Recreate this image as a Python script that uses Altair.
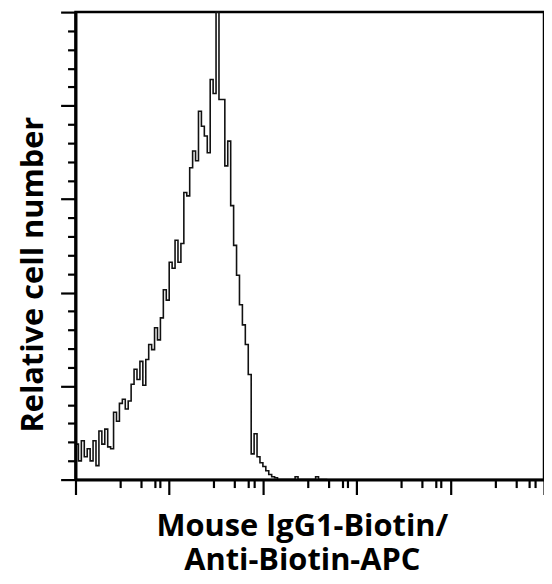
import altair as alt
import pandas as pd

# Histogram: 160 log-spaced bins over 5 decades (1 .. 1e5)
BINS_PER_RANGE = 160
DECADES = 5
counts = [
    7.6, 4.0, 8.3, 4.9, 6.6, 4.0, 8.3, 3.0, 10.4, 7.6,
    10.8, 7.0, 6.6, 14.4, 12.5, 16.3, 17.2, 15.1, 16.8, 20.4,
    23.6, 21.4, 25.3, 20.2, 25.7, 28.9, 27.8, 32.5, 29.9, 34.6,
    40.6, 38.4, 46.5, 45.2, 51.2, 46.5, 50.5, 61.4, 60.7, 66.7,
    70.3, 68.2, 78.8, 75.6, 73.5, 69.9, 85.6, 82.6, 100.0, 81.3,
    81.3, 67.1, 72.4, 58.6, 50.1, 43.7, 37.4, 33.1, 28.9, 22.5,
    5.5, 9.8, 4.9, 3.6, 2.8, 1.9, 1.1, 0.6, 0.4, 0.0,
    0.0, 0.0, 0.0, 0.0, 0.0, 0.6, 0.0, 0.0, 0.0, 0.0,
    0.0, 0.0, 0.6, 0.0, 0.0, 0.0,
]

x_tick_values = [1, 3, 5, 7, 8, 10, 30, 50, 70, 80, 100, 300, 500, 700, 800,
                 1000, 3000, 5000, 7000, 8000, 10000, 30000, 50000, 70000, 80000, 100000]
x_major = [1, 10, 100, 1000, 10000, 100000]
y_tick_values = list(range(0, 101, 4))

x_title = ["Mouse IgG1-Biotin/", "Anti-Biotin-APC"]
y_title = "Relative cell number"

edges = [10 ** (i * DECADES / BINS_PER_RANGE) for i in range(len(counts) + 1)]
df = pd.DataFrame({
    "channel": edges,
    "count": counts + [counts[-1]],
})

FONT = "Open Sans"
TITLE_SIZE = 31
major_test = "indexof(" + str(x_major) + ", datum.value) >= 0"

chart = (
    alt.Chart(df)
    .mark_line(interpolate="step-after", color="#111111", strokeWidth=1.6)
    .encode(
        x=alt.X(
            "channel:Q",
            scale=alt.Scale(type="log", domain=[1, 100000], nice=False),
            axis=alt.Axis(
                values=x_tick_values,
                labels=False,
                grid=False,
                domainColor="black",
                domainWidth=3,
                tickColor="black",
                tickWidth=2.2,
                tickSize={"condition": {"test": major_test, "value": 15}, "value": 8},
                title=x_title,
                titleFont=FONT,
                titleFontSize=TITLE_SIZE,
                titleFontWeight="bold",
                titleColor="black",
                titleBaseline="alphabetic",
                titleLineHeight=35,
                titleX=228,
                titleY=56,
                zindex=1,
            ),
        ),
        y=alt.Y(
            "count:Q",
            scale=alt.Scale(domain=[0, 100], nice=False),
            axis=alt.Axis(
                values=y_tick_values,
                labels=False,
                grid=False,
                domainColor="black",
                domainWidth=3,
                tickColor="black",
                tickWidth=2.2,
                tickSize={"condition": {"test": "datum.value % 20 === 0", "value": 15}, "value": 8},
                title=y_title,
                titleFont=FONT,
                titleFontSize=TITLE_SIZE,
                titleFontWeight="bold",
                titleColor="black",
                titleAngle=270,
                titleBaseline="alphabetic",
                titleAlign="center",
                titleX=-33,
                titleY=264,
                zindex=1,
            ),
        ),
    )
    .properties(
        width=472,
        height=471,
        autosize=alt.AutoSizeParams(type="none"),
        padding={"left": 68, "top": 2, "right": 0, "bottom": 100},
    )
    .configure_view(stroke="black", strokeWidth=2.5)
)

chart.save("out.html", embed_options={"renderer": "svg", "actions": False})
